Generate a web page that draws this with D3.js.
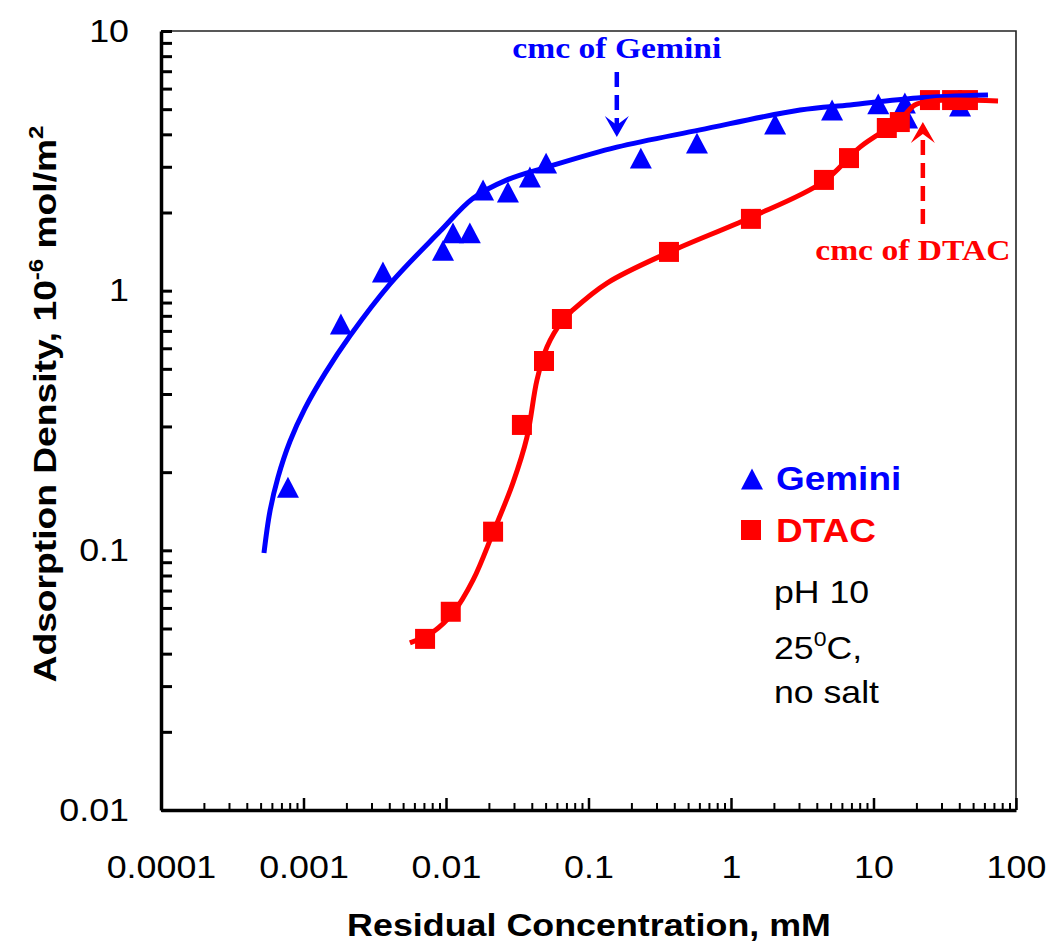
<!DOCTYPE html>
<html>
<head>
<meta charset="utf-8">
<script src="https://cdn.jsdelivr.net/npm/d3@7"></script>
<style>
  html, body { margin: 0; padding: 0; background: #fff; }
  svg { display: block; }
</style>
</head>
<body>
<svg id="chart" width="1051" height="945"></svg>
<script>
// ---- data ----
const xTickValues = [0.0001, 0.001, 0.01, 0.1, 1, 10, 100];
const xTickLabels = ["0.0001", "0.001", "0.01", "0.1", "1", "10", "100"];
const yTickValues = [0.01, 0.1, 1, 10];
const yTickLabels = ["0.01", "0.1", "1", "10"];

// measured adsorption, Gemini surfactant (triangles)
const geminiConc    = [0.000778, 0.00183, 0.00361, 0.00953, 0.0112, 0.0147, 0.0182, 0.0272, 0.0388, 0.0504, 0.233, 0.577, 2.04, 5.12, 10.8, 16.6, 17.2, 40.5];
const geminiDensity = [0.175, 0.744, 1.18, 1.43, 1.67, 1.67, 2.44, 2.40, 2.74, 3.10, 3.24, 3.70, 4.38, 4.96, 5.24, 5.28, 4.62, 5.14];

// measured adsorption, DTAC (squares)
const dtacConc    = [0.00713, 0.0108, 0.0214, 0.0341, 0.0487, 0.0651, 0.367, 1.38, 4.49, 6.73, 12.4, 15.3, 24.9, 35.6, 46.0];
const dtacDensity = [0.0456, 0.058, 0.118, 0.304, 0.536, 0.778, 1.41, 1.89, 2.67, 3.24, 4.23, 4.46, 5.42, 5.42, 5.42];

// smooth trend lines
const geminiFitConc    = [0.000528, 0.000582, 0.000662, 0.000804, 0.001024, 0.001416, 0.00212, 0.00405, 0.00908, 0.0155, 0.0268, 0.0511, 0.158, 0.606, 3.05, 6.84, 20.2, 63.6];
const geminiFitDensity = [0.0977, 0.1418, 0.191, 0.263, 0.352, 0.480, 0.670, 1.062, 1.692, 2.27, 2.67, 2.99, 3.57, 4.16, 4.96, 5.19, 5.52, 5.67];
const dtacFitConc    = [0.00558, 0.00811, 0.0112, 0.0155, 0.0214, 0.0295, 0.0370, 0.0435, 0.0511, 0.0662, 0.0778, 0.135, 0.371, 1.36, 4.42, 8.04, 15.3, 19.5, 25.7, 74.8];
const dtacFitDensity = [0.044, 0.0485, 0.0574, 0.0769, 0.117, 0.182, 0.273, 0.453, 0.607, 0.771, 0.843, 1.07, 1.41, 1.91, 2.62, 3.57, 4.54, 5.19, 5.38, 5.38];

// critical micelle concentration markers
const cmcNames    = ["cmc of Gemini", "cmc of DTAC"];
const cmcConc     = [0.158, 22.2];
const cmcTipValue = [3.91, 4.46];

const seriesNames = ["Gemini", "DTAC"];
const conditions  = ["pH 10", "25|0|C,", "no salt"];

// ---- layout ----
const BLUE = "#0000ff", RED = "#ff0000";
const SANS = "'Liberation Sans', Arial, sans-serif";
const SERIF = "'Liberation Serif', 'Times New Roman', serif";
const STRETCH = 1.12;   // wide text rendering
const plot = { left: 161, right: 1016, top: 31, bottom: 810 };

const svg = d3.select("#chart");
const x = d3.scaleLog().domain([1e-4, 100]).range([plot.left, plot.right]);
const y = d3.scaleLog().domain([0.01, 10]).range([plot.bottom, plot.top]);

function minorTicks(lo, hi) {
  const out = [];
  for (let e = lo; e < hi; e++) for (let k = 2; k <= 9; k++) out.push(+(k * Math.pow(10, e)).toPrecision(3));
  return out;
}

// frame (top and right)
svg.append("path")
  .attr("d", `M${plot.left},${plot.top}H${plot.right}V${plot.bottom}`)
  .attr("fill", "none").attr("stroke", "#222").attr("stroke-width", 1.6);

// ---- x axis ----
const gxMinor = svg.append("g").attr("transform", `translate(0,${plot.bottom})`)
  .call(d3.axisBottom(x).tickValues(minorTicks(-4, 2)).tickSize(-7).tickSizeOuter(0).tickFormat(""));
gxMinor.select(".domain").remove();
gxMinor.selectAll("line").attr("stroke", "#000").attr("stroke-width", 2);

const gx = svg.append("g").attr("transform", `translate(0,${plot.bottom})`)
  .call(d3.axisBottom(x).tickValues(xTickValues).tickSize(-12).tickSizeOuter(0).tickPadding(45)
    .tickFormat((d, i) => xTickLabels[i]));
gx.select(".domain").attr("stroke", "#000").attr("stroke-width", 3.5);
gx.selectAll("line").attr("stroke", "#000").attr("stroke-width", 2.5);
gx.selectAll("text").attr("font-family", SANS).attr("font-size", 32).attr("fill", "#000")
  .attr("transform", `scale(${STRETCH},1)`);

// ---- y axis ----
const gyMinor = svg.append("g").attr("transform", `translate(${plot.left},0)`)
  .call(d3.axisLeft(y).tickValues(minorTicks(-2, 1)).tickSize(-11).tickSizeOuter(0).tickFormat(""));
gyMinor.select(".domain").remove();
gyMinor.selectAll("line").attr("stroke", "#000").attr("stroke-width", 3);

const gy = svg.append("g").attr("transform", `translate(${plot.left},0)`)
  .call(d3.axisLeft(y).tickValues(yTickValues).tickSize(-11).tickSizeOuter(0).tickPadding(32)
    .tickFormat((d, i) => yTickLabels[i]));
gy.select(".domain").attr("stroke", "#000").attr("stroke-width", 3.5);
gy.selectAll("line").attr("stroke", "#000").attr("stroke-width", 3);
gy.selectAll("text").attr("font-family", SANS).attr("font-size", 32).attr("fill", "#000")
  .attr("transform", `translate(-32,0) scale(${STRETCH},1) translate(32,0)`);

// ---- axis titles ----
svg.append("text")
  .attr("transform", `translate(589,936) scale(${STRETCH},1)`)
  .attr("text-anchor", "middle").attr("font-family", SANS).attr("font-weight", "bold")
  .attr("font-size", 32).attr("fill", "#000")
  .text("Residual Concentration, mM");

const yTitle = svg.append("text")
  .attr("transform", `translate(56,404) rotate(-90) scale(1.2,1)`)
  .attr("text-anchor", "middle").attr("font-family", SANS).attr("font-weight", "bold")
  .attr("font-size", 31).attr("fill", "#000");
yTitle.append("tspan").text("Adsorption Density, 10");
yTitle.append("tspan").attr("dy", -13).attr("font-size", 20).text("-6");
yTitle.append("tspan").attr("dy", 13).text(" mol/m");
yTitle.append("tspan").attr("dy", -13).attr("font-size", 20).text("2");

// ---- markers & curves ----
const triangle = {
  draw(ctx, size) {
    const w = Math.sqrt(size), h = w * 0.95;
    ctx.moveTo(0, -h / 2); ctx.lineTo(w / 2, h / 2); ctx.lineTo(-w / 2, h / 2); ctx.closePath();
  }
};
const triPath = d3.symbol().type(triangle).size(22 * 22)();
const sqPath = d3.symbol().type(d3.symbolSquare).size(20 * 20)();

const gemini = geminiConc.map((c, i) => [c, geminiDensity[i]]);
const dtac = dtacConc.map((c, i) => [c, dtacDensity[i]]);
const geminiFit = geminiFitConc.map((c, i) => [c, geminiFitDensity[i]]);
const dtacFit = dtacFitConc.map((c, i) => [c, dtacFitDensity[i]]);

const line = d3.line().x(d => x(d[0])).y(d => y(d[1])).curve(d3.curveCatmullRom.alpha(0.5));

svg.append("g").selectAll("path").data(gemini).join("path")
  .attr("d", triPath).attr("fill", BLUE)
  .attr("transform", d => `translate(${x(d[0])},${y(d[1])})`);
svg.append("g").selectAll("path").data(dtac).join("path")
  .attr("d", sqPath).attr("fill", RED)
  .attr("transform", d => `translate(${x(d[0])},${y(d[1])})`);
svg.append("path").datum(geminiFit).attr("d", line)
  .attr("fill", "none").attr("stroke", BLUE).attr("stroke-width", 5);
svg.append("path").datum(dtacFit).attr("d", line)
  .attr("fill", "none").attr("stroke", RED).attr("stroke-width", 5);

// ---- cmc annotations ----
function arrow(cx, tipY, dir, tailY, color) {
  // dir = +1 pointing down, -1 pointing up
  const headLen = 21, notch = 12, half = 12;
  const baseY = tipY - dir * headLen;
  svg.append("line")
    .attr("x1", cx).attr("x2", cx).attr("y1", tailY).attr("y2", tipY - dir * notch)
    .attr("stroke", color).attr("stroke-width", 4.5).attr("stroke-dasharray", "15,8");
  svg.append("path")
    .attr("d", `M${cx - half},${baseY}L${cx},${tipY}L${cx + half},${baseY}L${cx},${tipY - dir * notch}Z`)
    .attr("fill", color);
}
// Gemini cmc: label above, arrow pointing down
{
  const cx = x(cmcConc[0]), tip = y(cmcTipValue[0]);
  arrow(cx, tip, 1, 72, BLUE);
  svg.append("text").attr("transform", `translate(${cx},58) scale(${STRETCH},1)`)
    .attr("text-anchor", "middle").attr("font-family", SERIF).attr("font-weight", "bold")
    .attr("font-size", 30).attr("fill", BLUE).text(cmcNames[0]);
}
// DTAC cmc: label below, arrow pointing up
{
  const cx = x(cmcConc[1]), tip = y(cmcTipValue[1]);
  arrow(cx, tip, -1, 224, RED);
  svg.append("text").attr("transform", `translate(${cx - 10},260) scale(${STRETCH},1)`)
    .attr("text-anchor", "middle").attr("font-family", SERIF).attr("font-weight", "bold")
    .attr("font-size", 30).attr("fill", RED).text(cmcNames[1]);
}

// ---- legend ----
const legend = svg.append("g");
legend.append("path").attr("d", triPath).attr("fill", BLUE).attr("transform", "translate(752,479)");
legend.append("path").attr("d", sqPath).attr("fill", RED).attr("transform", "translate(751,530)");
legend.append("text").attr("transform", `translate(776,490) scale(${STRETCH},1)`)
  .attr("font-family", SANS).attr("font-weight", "bold").attr("font-size", 33).attr("fill", BLUE)
  .text(seriesNames[0]);
legend.append("text").attr("transform", `translate(776,542) scale(${STRETCH},1)`)
  .attr("font-family", SANS).attr("font-weight", "bold").attr("font-size", 33).attr("fill", RED)
  .text(seriesNames[1]);

const condY = [603, 659, 703];
conditions.forEach((c, i) => {
  const t = legend.append("text").attr("transform", `translate(774,${condY[i]}) scale(1.15,1)`)
    .attr("font-family", SANS).attr("font-size", 31).attr("fill", "#000");
  const parts = c.split("|");
  if (parts.length === 1) { t.text(c); return; }
  t.append("tspan").text(parts[0]);
  t.append("tspan").attr("dy", -13).attr("font-size", 20).text(parts[1]);
  t.append("tspan").attr("dy", 13).text(parts[2]);
});
</script>
</body>
</html>
